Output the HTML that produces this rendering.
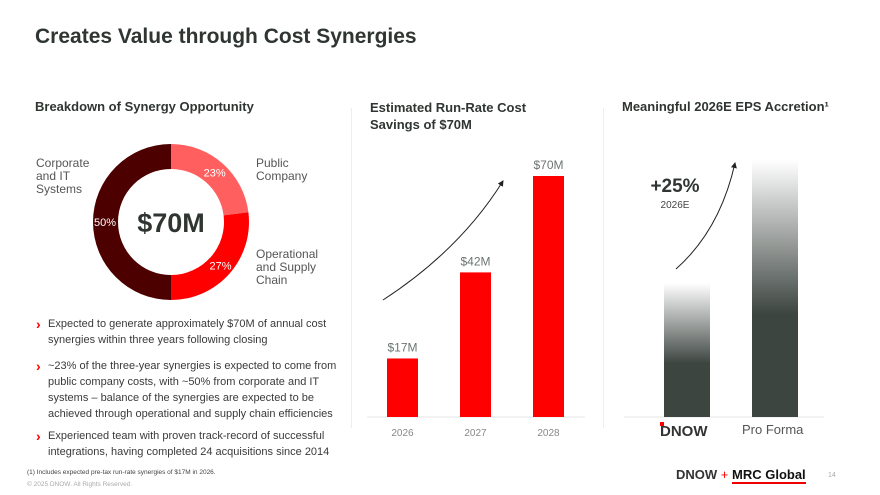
<!DOCTYPE html>
<html><head><meta charset="utf-8"><style>
body{margin:0;width:880px;height:495px;background:#fff;font-family:"Liberation Sans",sans-serif;overflow:hidden;position:relative}
.a{position:absolute;margin:0}
.h{font-weight:bold;color:#2f3632}
.b{font-size:11px;color:#3a3a3a;line-height:16px;left:48px;width:292px}
.b:before{content:"›";position:absolute;left:-12px;color:#f00;font-weight:bold;font-size:14px}
</style></head><body>
<div class="a h" style="left:35px;top:25px;font-size:21px">Creates Value through Cost Synergies</div>
<div class="a h" style="left:35px;top:99px;font-size:13px">Breakdown of Synergy Opportunity</div>
<div class="a h" style="left:370px;top:99px;font-size:13px;line-height:17px">Estimated Run-Rate Cost<br>Savings of $70M</div>
<div class="a h" style="left:622px;top:99px;font-size:13px">Meaningful 2026E EPS Accretion¹</div>
<div class="a" style="left:351px;top:108px;width:1px;height:320px;background:#eee"></div>
<div class="a" style="left:603px;top:108px;width:1px;height:320px;background:#eee"></div>
<svg class="a" style="left:0;top:0" width="880" height="495" id="svg"></svg>
<div class="a" style="left:36px;top:157px;font-size:12px;line-height:13px;color:#555">Corporate<br>and IT<br>Systems</div>
<div class="a" style="left:256px;top:157px;font-size:12px;line-height:13px;color:#555">Public<br>Company</div>
<div class="a" style="left:256px;top:248px;font-size:12px;line-height:13px;color:#555">Operational<br>and Supply<br>Chain</div>
<div class="a b" style="top:316px">Expected to generate approximately $70M of annual cost synergies within three years following closing</div>
<div class="a b" style="top:358px">~23% of the three-year synergies is expected to come from public company costs, with ~50% from corporate and IT systems – balance of the synergies are expected to be achieved through operational and supply chain efficiencies</div>
<div class="a b" style="top:428px">Experienced team with proven track-record of successful integrations, having completed 24 acquisitions since 2014</div>
<div class="a" style="left:27px;top:469px;font-size:6.5px;color:#444">(1) Includes expected pre-tax run-rate synergies of $17M in 2026.</div>
<div class="a" style="left:27px;top:481px;font-size:6.5px;color:#aaa">© 2025 DNOW. All Rights Reserved.</div>
<div class="a" style="left:676px;top:467px;font-size:13px;font-weight:bold;color:#333">DNOW<span style="color:#f00;font-weight:normal"> + </span><span style="color:#111;border-bottom:2px solid #e00">MRC Global</span></div>
<div class="a" style="left:828px;top:472px;font-size:7px;color:#aaa">14</div>
<script>
const donutLabels=["Public Company","Operational and Supply Chain","Corporate and IT Systems"];
const donutValues=[23,27,50];
const donutColors=["#ff5f5f","#ff0000","#4d0000"];
const years=["2026","2027","2028"];
const savings=[17,42,70];
const epsCats=["DNOW","Pro Forma"];
const epsValues=[100,125];
const svg=document.getElementById('svg');
const NS='http://www.w3.org/2000/svg';
function mk(t,a,p){const e=document.createElementNS(NS,t);for(const k in a)e.setAttribute(k,a[k]);(p||svg).appendChild(e);return e;}
const defs=mk('defs',{});
const g=mk('linearGradient',{id:'gr',x1:0,y1:0,x2:0,y2:1},defs);
mk('stop',{offset:'0','stop-color':'#fff'},g);mk('stop',{offset:'0.6','stop-color':'#3d4541'},g);mk('stop',{offset:'1','stop-color':'#3d4541'},g);
const m=mk('marker',{id:'ar',markerWidth:6,markerHeight:6,refX:5,refY:3,orient:'auto'},defs);
mk('path',{d:'M0,0L6,3L0,6z',fill:'#222'},m);
const cx=171,cy=222,R=78,r=53;
const tot=donutValues.reduce((a,b)=>a+b,0);
let ang=0;
donutValues.forEach((v,i)=>{
 const a0=ang,a1=ang+v/tot*2*Math.PI;ang=a1;
 const p=(a,rr)=>[cx+rr*Math.sin(a),cy-rr*Math.cos(a)];
 const [x0,y0]=p(a0,R),[x1,y1]=p(a1,R),[x2,y2]=p(a1,r),[x3,y3]=p(a0,r);
 const lg=(a1-a0)>Math.PI?1:0;
 const s=mk('path',{d:`M${x0},${y0}A${R},${R} 0 ${lg} 1 ${x1},${y1}L${x2},${y2}A${r},${r} 0 ${lg} 0 ${x3},${y3}Z`,fill:donutColors[i]});
 
 
 const ma=(a0+a1)/2,[lx,ly]=p(ma,r+13);
 const t=mk('text',{x:lx,y:ly+4,'text-anchor':'middle','font-size':11,fill:'#fff','font-family':'Liberation Sans'});t.textContent=v+'%';
 
 
});
const ct=mk('text',{x:cx,y:cy+10,'text-anchor':'middle','font-size':27,'font-weight':'bold',fill:'#2f3632','font-family':'Liberation Sans'});ct.textContent='$70M';


const base=417,k=241/70,x0s=387,step=73,bw=31;
mk('line',{x1:367,y1:base,x2:585,y2:base,stroke:'#e6e6e6'});
years.forEach((y,i)=>{
 const h=savings[i]*k,x=x0s+i*step;
 const b=mk('rect',{x:x,y:base-h,width:bw,height:h,fill:'#f00'});
 
 
 const t=mk('text',{x:x+bw/2,y:base-h-7,'text-anchor':'middle','font-size':12,fill:'#6b7570','font-family':'Liberation Sans'});t.textContent='$'+savings[i]+'M';
 
 
 const l=mk('text',{x:x+bw/2,y:436,'text-anchor':'middle','font-size':10,fill:'#888','font-family':'Liberation Sans'});l.textContent=y;
 
 
});
mk('path',{d:'M383,300Q460,250 503,181',fill:'none',stroke:'#222','stroke-width':1,'marker-end':'url(#ar)'});
const eb=417,emin=72.8,ek=4.92;
mk('line',{x1:624,y1:eb,x2:824,y2:eb,stroke:'#e6e6e6'});
epsCats.forEach((c,i)=>{
 const h=(epsValues[i]-emin)*ek,x=664+i*88;
 const b=mk('rect',{x:x,y:eb-h,width:46,height:h,fill:'url(#gr)'});
 
 
});
const d=mk('text',{x:660,y:436,'font-size':15,'font-weight':'bold',fill:'#333','font-family':'Liberation Sans'});d.textContent='DNOW';


mk('rect',{x:660,y:422,width:4,height:4,fill:'#f00'});
const pf=mk('text',{x:742,y:434,'font-size':13,fill:'#555','font-family':'Liberation Sans'});pf.textContent='Pro Forma';


mk('path',{d:'M676,269Q720,230 735,163',fill:'none',stroke:'#222','stroke-width':1,'marker-end':'url(#ar)'});
const p25=mk('text',{x:675,y:192,'text-anchor':'middle','font-size':19,'font-weight':'bold',fill:'#2f3632','font-family':'Liberation Sans'});p25.textContent='+25%';


const e6=mk('text',{x:675,y:208,'text-anchor':'middle','font-size':10,fill:'#444','font-family':'Liberation Sans'});e6.textContent='2026E';


</script>
</body></html>
